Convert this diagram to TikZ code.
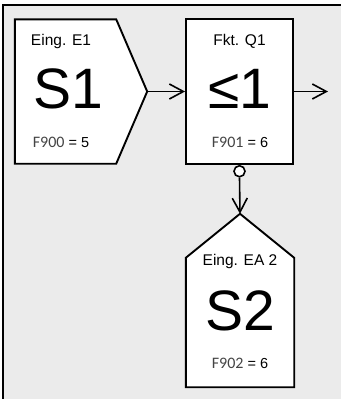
\documentclass[tikz,border=0pt]{standalone}
\usepackage{fontspec}
\setmainfont{Liberation Sans}
\newfontfamily\segfont{Carlito}
\usepackage{xcolor}
\usetikzlibrary{arrows.meta,positioning,calc}
\definecolor{ink}{HTML}{000000}
\definecolor{panel}{HTML}{EBEBEB}
\definecolor{segink}{HTML}{444444}
\tikzset{
  >={Straight Barb[length=14pt,width=15pt,line width=1.6pt]},
  blockline/.style={draw=ink,fill=white,line width=1.9pt,line join=miter},
  blockpart/.style={rectangle,inner sep=0pt,minimum width=#1},
  qbox/.style={rectangle,draw=ink,fill=white,line width=1.9pt,inner sep=0pt,minimum width=107pt,minimum height=145pt},
  negcircle/.style={circle,draw=ink,fill=white,line width=1.6pt,inner sep=0pt,minimum size=11pt},
  toplbl/.style={anchor=base,inner sep=0pt,font=\fontsize{15.5}{18}\selectfont},
  biglbl/.style={anchor=base,inner sep=0pt,font=\fontsize{57}{60}\selectfont},
  parlbl/.style={anchor=base,inner sep=0pt,font=\fontsize{14.5}{17}\selectfont},
  sig/.style={->,line width=1.6pt,color=ink},
}
\newcommand{\parcode}[2]{{\segfont\fontsize{16}{17}\selectfont\color{segink}#1} = #2}

\begin{document}
\begin{tikzpicture}[x=1pt,y=1pt]
  \useasboundingbox (0,0) rectangle (341,-399);
  \fill[panel] (3,-399) rectangle (341,-5);
  \draw[line width=2.2pt,color=ink] (3,-399) -- (3,-5) -- (341,-5);

  % input S1
  \node[blockpart=101pt,minimum height=144pt] (S1) at (65.5,-91.5) {};
  \coordinate (S1tip) at ($(S1.east)+(31,0)$);
  \draw[blockline] (S1.north west) -- (S1.north east) -- (S1tip) -- (S1.south east) -- (S1.south west) -- cycle;
  \node[toplbl] (S1name) at (61,-45) {Eing. E1};
  \node[biglbl] (S1sym) at (68,-108) {S1};
  \node[parlbl] (S1par) at (61,-147) {\parcode{F900}{5}};

  % function Q1
  \node[qbox] (Q1) at (239.5,-91.5) {};
  \node[toplbl] (Q1name) at (239.5,-45) {Fkt. Q1};
  \node[biglbl] (Q1sym) at (239.5,-108) {≤1};
  \node[parlbl] (Q1par) at (240,-147) {\parcode{F901}{6}};
  \coordinate (Q1out) at (328,-91.5);

  % input/output S2
  \node[blockpart=108pt,minimum height=129pt] (S2) at (240,-322.5) {};
  \coordinate (S2tip) at ($(S2.north)+(0,44)$);
  \draw[blockline] (S2.north west) -- (S2tip) -- (S2.north east) -- (S2.south east) -- (S2.south west) -- cycle;
  \node[toplbl] (S2name) at (240,-265) {Eing. EA 2};
  \node[biglbl] (S2sym) at (240,-330) {S2};
  \node[parlbl] (S2par) at (240,-368) {\parcode{F902}{6}};

  \node[negcircle,below=0pt of Q1.south] (neg) {};
  \draw[sig] (S1tip) -- (Q1.west);
  \draw[sig] (Q1.east) -- (Q1out);
  \draw[sig] (neg.south) -- (S2tip);
\end{tikzpicture}
\end{document}
